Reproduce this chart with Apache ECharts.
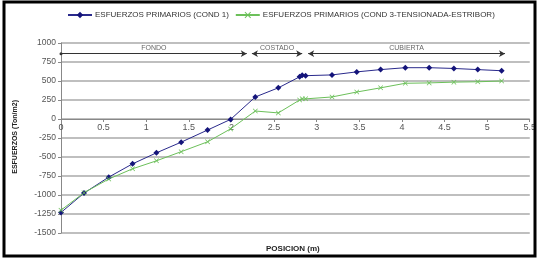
<!DOCTYPE html>
<html>
<head>
<meta charset="utf-8">
<script src="https://cdn.jsdelivr.net/npm/echarts@6/dist/echarts.min.js"></script>
<style>
  html, body { margin: 0; padding: 0; background: #fff; }
  #chart { width: 539px; height: 260px; }
</style>
</head>
<body>
<div id="chart"></div>
<script>
// posiciones (m) y esfuerzos (Ton/m2)
const posicion = [0, 0.27, 0.56, 0.84, 1.12, 1.41, 1.72, 1.99, 2.28, 2.55, 2.8, 2.83, 2.87, 3.18, 3.47, 3.75, 4.04, 4.32, 4.61, 4.89, 5.17];
const cond1 = [-1230, -975, -765, -590, -445, -305, -145, -5, 290, 410, 555, 575, 570, 580, 620, 650, 675, 675, 665, 650, 635];
const cond3 = [-1200, -970, -790, -655, -550, -430, -300, -130, 105, 80, 250, 265, 265, 290, 355, 410, 470, 475, 485, 490, 500];
const serieNames = ['ESFUERZOS PRIMARIOS (COND 1)', 'ESFUERZOS PRIMARIOS (COND 3-TENSIONADA-ESTRIBOR)'];

// tramos de la seccion (inicio, fin, nombre)
const tramoNames = ['FONDO', 'COSTADO', 'CUBIERTA'];
const tramoStart = [0, 2.24, 2.9];
const tramoEnd = [2.18, 2.83, 5.21];
const tramoY = 860;

const font = 'Liberation Sans, Arial, sans-serif';
const chart = echarts.init(document.getElementById('chart'));

const toPairs = (xs, ys) => xs.map((x, i) => [x, ys[i]]);

const tramoLines = tramoNames.map((name, i) => [
    { coord: [tramoStart[i], tramoY], symbol: i === 0 ? 'circle' : 'arrow', symbolSize: i === 0 ? 3 : [5, 6], symbolRotate: 90, name: name },
    { coord: [tramoEnd[i], tramoY], symbol: 'arrow', symbolSize: [5, 6], symbolRotate: -90 }
]);

const xMark = 'path://M0,1L1,0L5,4L9,0L10,1L6,5L10,9L9,10L5,6L1,10L0,9L4,5Z';

// eje x sobre el cero: 1000 de 2500 desde arriba, alto de grid 190
const gridTop = 43, gridBottom = 27, gridHeight = 260 - gridTop - gridBottom;
const zeroOffset = -Math.round(gridHeight * 1500 / 2500);

chart.setOption({
    backgroundColor: '#fff',
    animation: false,
    textStyle: { fontFamily: font },
    legend: {
        top: 6,
        left: 62,
        itemWidth: 24,
        itemHeight: 8,
        itemGap: 6,
        textStyle: { fontSize: 8, color: '#333', fontFamily: font, padding: [0, 0, 0, -2] },
        data: serieNames
    },
    grid: { left: 61, right: 7, top: gridTop, bottom: gridBottom },
    xAxis: {
        type: 'value',
        min: 0, max: 5.5, interval: 0.5,
        offset: zeroOffset,
        axisLine: { onZero: false, lineStyle: { color: '#888', width: 1 } },
        axisTick: { length: 3, lineStyle: { color: '#888' } },
        axisLabel: { color: '#555', fontSize: 9, margin: 4, showMaxLabel: true },
        splitLine: { show: false }
    },
    yAxis: {
        type: 'value',
        min: -1500, max: 1000, interval: 250,
        axisLine: { show: true, onZero: false, lineStyle: { color: '#888' } },
        axisTick: { show: true, length: 3, lineStyle: { color: '#888' } },
        axisLabel: { color: '#555', fontSize: 8.5, margin: 5, formatter: v => String(v) },
        splitLine: { lineStyle: { color: '#aaa', width: 1.5 } }
    },
    graphic: [
        {
            type: 'text',
            left: 12, top: 100,
            rotation: Math.PI / 2,
            style: { text: 'ESFUERZOS (Ton/m2)', fill: '#222', font: 'bold 7px ' + font }
        },
        {
            type: 'text',
            left: 266, top: 245,
            style: { text: 'POSICION (m)', fill: '#222', font: 'bold 8px ' + font }
        },
        {
            type: 'rect',
            shape: { x: 4, y: 2, width: 531, height: 254 },
            style: { fill: 'none', stroke: '#000', lineWidth: 3 },
            z: 100
        }
    ],
    series: [
        {
            name: serieNames[0],
            type: 'line',
            data: toPairs(posicion, cond1),
            symbol: 'diamond',
            symbolSize: 6,
            lineStyle: { color: '#2a2a8c', width: 1 },
            itemStyle: { color: '#14147a' }
        },
        {
            name: serieNames[1],
            type: 'line',
            data: toPairs(posicion, cond3),
            symbol: xMark,
            symbolSize: 5,
            lineStyle: { color: '#6cc05a', width: 1 },
            itemStyle: { color: '#6cc05a' }
        },
        {
            name: 'tramos',
            type: 'line',
            data: [],
            markLine: {
                silent: true,
                lineStyle: { color: '#333', width: 1, type: 'solid' },
                itemStyle: { color: '#222' },
                label: {
                    show: true,
                    position: 'middle',
                    formatter: p => p.name,
                    fontSize: 7,
                    color: '#666',
                    distance: 2
                },
                data: tramoLines
            }
        }
    ]
});
</script>
</body>
</html>
